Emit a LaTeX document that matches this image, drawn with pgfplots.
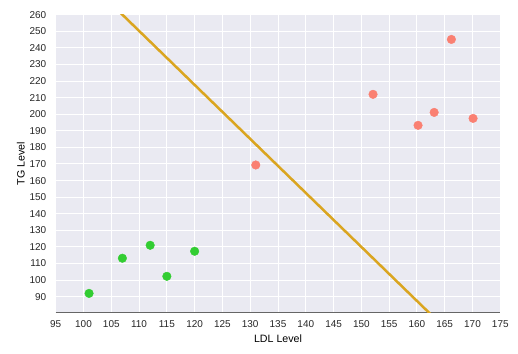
\documentclass[border=0pt]{standalone}
\usepackage{pgfplots}
\pgfplotsset{compat=1.18}
\usepackage{fontspec}
\setmainfont{Liberation Sans}
\definecolor{bgc}{HTML}{EAEAF2}
\definecolor{lgreen}{HTML}{32CD32}
\definecolor{salm}{HTML}{FA8072}
\definecolor{gold}{HTML}{DAA520}
\begin{document}
\begin{tikzpicture}
\useasboundingbox (-55.7bp,-41.7bp) rectangle (462.3bp,312.3bp);
\begin{axis}[
  at={(0,0)}, anchor=south west,
  scale only axis, width=444.6bp, height=297.6bp,
  xmin=95, xmax=175, ymin=80.6, ymax=260,
  xtick={95,100,...,175}, ytick={90,100,...,260},
  axis background/.style={fill=bgc},
  grid=major, major grid style={white, line width=1bp},
  major tick length=0pt,
  axis x line*=bottom, axis y line*=left,
  x axis line style={draw=gray!80!black, line width=0.8bp, -},
  y axis line style={draw=none},
  tick label style={font=\fontsize{10}{12}\selectfont, text=black!85},
  /pgf/number format/assume math mode=true,
  xticklabel style={anchor=center, yshift=-12bp},
  yticklabel style={anchor=east, xshift=-6bp},
  xlabel={LDL Level}, ylabel={TG Level},
  every axis x label/.style={at={(axis description cs:0.5,0)}, anchor=center, yshift=-26bp, font=\fontsize{10.7}{12}\selectfont},
  every axis y label/.style={at={(axis description cs:0,0.5)}, rotate=90, anchor=center, yshift=35bp, font=\fontsize{10.7}{12}\selectfont},
  clip=true,
]
\addplot[gold, line width=2.5bp] coordinates {(100,282.8) (170,54.9)};
\addplot[only marks, mark=*, mark size=4.3bp, lgreen, mark options={draw=lgreen, fill=lgreen}] coordinates {
(101,92) (107,113.2) (112,121) (115,102.3) (120,117.4)};
\addplot[only marks, mark=*, mark size=4.3bp, salm, mark options={draw=salm, fill=salm}] coordinates {
(131,169.4) (152.1,212) (160.2,193.3) (163.1,201.1) (166.2,245.1) (170.1,197.5)};
\end{axis}
\end{tikzpicture}
\end{document}
